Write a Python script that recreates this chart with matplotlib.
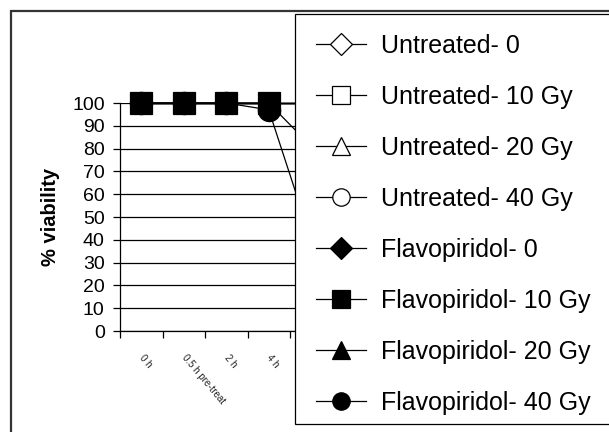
import matplotlib.pyplot as plt
from matplotlib.patches import Rectangle

plt.rcParams['font.family'] = ['Liberation Sans', 'DejaVu Sans']

# categories (labels in the source are illegible, these are placeholders)
categories = ["0 h", "0.5 h pre-treat", "2 h", "4 h", "8 h", "24 h"]

untreated_0 = [100, 100, 100, 100, 100, 100]
untreated_10 = [100, 100, 100, 100, 100, 100]
untreated_20 = [100, 100, 100, 100, 100, 100]
untreated_40 = [100, 100, 100, 100, 100, 100]
flavo_0 = [100, 100, 100, 100, 100, 100]
flavo_10 = [100, 100, 100, 100, 100, 100]
flavo_20 = [100, 100, 100, 100, 81, 70]
flavo_40 = [100, 100, 100, 97, 40, 30]

series = [
    ("Untreated- 0", untreated_0, "D", "white", 10),
    ("Untreated- 10 Gy", untreated_10, "s", "white", 12),
    ("Untreated- 20 Gy", untreated_20, "^", "white", 12),
    ("Untreated- 40 Gy", untreated_40, "o", "white", 12),
    ("Flavopiridol- 0", flavo_0, "D", "black", 10),
    ("Flavopiridol- 10 Gy", flavo_10, "s", "black", 16.5),
    ("Flavopiridol- 20 Gy", flavo_20, "^", "black", 12),
    ("Flavopiridol- 40 Gy", flavo_40, "o", "black", 16),
]
zorders = [3, 3, 3, 3, 3, 6, 4, 5]
legend_sizes = {"D": 11, "s": 12.5, "^": 12.5, "o": 12.5}

fig = plt.figure(figsize=(6.09, 4.32), dpi=100)
W, H = 609, 432
ax = fig.add_axes([120 / W, 1 - 331 / H, (375 - 120) / W, (331 - 103) / H])

x = list(range(1, len(categories) + 1))
handles = []
for (name, vals, mk, fc, ms), z in zip(series, zorders):
    h, = ax.plot(x, vals, color="black", lw=0.9, marker=mk, markersize=ms,
                 markerfacecolor=fc, markeredgecolor="black", markeredgewidth=0.9,
                 label=name, zorder=z, clip_on=False)
    handles.append(h)

ax.set_ylim(0, 100)
ax.set_xlim(0.5, len(categories) + 0.5)
ax.set_yticks(range(0, 101, 10))
ax.yaxis.grid(True, color="black", lw=0.9)
ax.set_axisbelow(True)
ax.tick_params(axis="y", labelsize=14, length=5, width=0.9, direction="out", pad=6)

ax.set_xticks([i + 0.5 for i in range(len(categories) + 1)])
ax.set_xticklabels([])
ax.set_xticks(x, minor=True)
ax.set_xticklabels(categories, minor=True, rotation=-50, rotation_mode="anchor",
                   ha="left", va="center", fontsize=7, color="#222222")
ax.tick_params(axis="x", which="major", length=5, width=0.9, direction="out")
ax.tick_params(axis="x", which="minor", length=0, pad=18)

ax.spines["top"].set_visible(False)
ax.spines["right"].set_visible(False)
ax.spines["left"].set_linewidth(0.9)
ax.spines["bottom"].set_linewidth(0.9)

ax.set_ylabel("% viability", fontsize=14.5, fontweight="bold", labelpad=9)

# legend box, drawn on top of the plot
fig.patches.append(Rectangle((295 / W, 1 - 424 / H), (640 - 295) / W, (424 - 14) / H,
                             transform=fig.transFigure, facecolor="white",
                             edgecolor="black", lw=0.9, zorder=10))
leg = fig.legend(handles=handles, loc="upper left",
                 bbox_to_anchor=(296 / W, 1 - 14 / H), frameon=False,
                 fontsize=18, handlelength=2.0,
                 handletextpad=0.6, labelspacing=1.078, borderpad=0.3)
for lh, s in zip(leg.legend_handles, series):
    lh.set_markersize(legend_sizes[s[2]])
leg.set_zorder(11)

# outer chart frame
fig.patches.append(Rectangle((11 / W, -0.05), 1.2, 1 - 11 / H + 0.05,
                             transform=fig.transFigure, facecolor="none",
                             edgecolor="#333333", lw=1.6, zorder=12))

fig.savefig("out.png", dpi=100)
